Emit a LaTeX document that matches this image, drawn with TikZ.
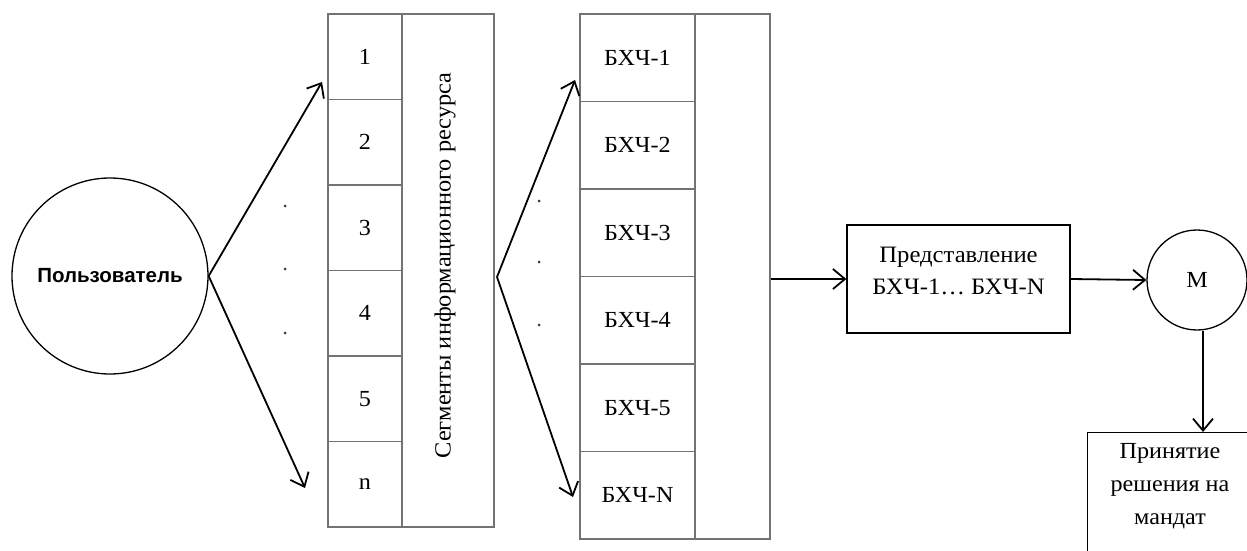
\documentclass[tikz,border=0pt]{standalone}
\usepackage{fontspec}
\setmainfont{Liberation Serif}
\newfontfamily\widefont[FakeStretch=1.05]{Liberation Serif}
\newfontfamily\userfont{Liberation Sans}
\usetikzlibrary{arrows.meta,positioning,calc}

\tikzset{
  box/.style={draw=black!55, line width=1.6pt, inner sep=0pt},
  cell/.style={box, minimum height=85.5pt, font=\widefont\fontsize{23}{26}\selectfont},
  arr/.style={-{Straight Barb[length=12pt,width=20pt]}, line width=1.8pt},
  dot/.style={circle, fill=black!80, minimum size=3pt, inner sep=0pt}
}

\begin{document}
\begin{tikzpicture}[x=1pt,y=-1pt]
\useasboundingbox (0,0) rectangle (1247,551);
\clip (0,0) rectangle (1247,551);
% user
\node[draw, line width=1.3pt, circle, minimum size=196pt, inner sep=0pt,
      font=\userfont\bfseries\fontsize{20.5}{24}\selectfont] (user) at (110,276) {Пользователь};
% segments of the resource
\foreach \i/\t in {1/1,2/2,3/3,4/4,5/5,6/n} {
  \node[cell, minimum width=74pt] (seg\i) at (365,{14+85.5*(\i-0.5)}) {\t};
}
\node[box, minimum width=92pt, minimum height=513pt] (segside) at (448,270.5) {};
\node[rotate=90, font=\widefont\fontsize{23.2}{26}\selectfont] (segtext) at (445,265.5) {Сегменты информационного ресурса};
% parts
\foreach \i/\t in {1/БХЧ-1,2/БХЧ-2,3/БХЧ-3,4/БХЧ-4,5/БХЧ-5,6/БХЧ-N} {
  \node[cell, minimum width=115pt, minimum height=87.5pt] (part\i) at (637.5,{14+87.5*(\i-0.5)}) {\t};
}
\node[box, minimum width=75pt, minimum height=525pt] (partside) at (732.5,276.5) {};
% dots
\foreach \y [count=\k] in {206,269,333} {
  \node[dot] (da\k) at (285,\y) {};
}
\foreach \y [count=\k] in {201,262,325} {
  \node[dot] (db\k) at (539,\y) {};
}
% representation, M, decision
\node[draw, line width=1.3pt, minimum width=223pt, minimum height=108pt] (rep) at (958.5,279) {};
\node[align=center, font=\widefont\fontsize{23.5}{32}\selectfont] (reptext) at (958.5,271) {Представление\\БХЧ-1\dots\ БХЧ-N};
\node[draw, line width=1.3pt, circle, minimum size=100pt, inner sep=0pt,
      font=\widefont\fontsize{23}{26}\selectfont] (mcirc) at (1197,280) {М};
\node[draw, line width=1.3pt, minimum width=166pt, minimum height=170pt, anchor=north west] (dec) at (1087,432) {};
\node[align=center, anchor=north, font=\widefont\fontsize{23}{33}\selectfont] (dectext) at (1170,440) {Принятие\\решения на\\мандат};
% connectors
\coordinate (fa1) at (322,82);
\coordinate (fa2) at (305,488);
\coordinate (apex) at (497,277);
\coordinate (fb1) at (575,80);
\coordinate (fb2) at (573,497);
\draw[arr] (user.east) -- (fa1);
\draw[arr] (user.east) -- (fa2);
\draw[arr] (apex) -- (fb1);
\draw[arr] (apex) -- (fb2);
\draw[arr] (partside.east |- rep.west) -- (rep.west);
\draw[arr] (rep.east) -- (mcirc.west);
\draw[arr] ([xshift=6pt]mcirc.south) -- ([xshift=6pt]mcirc.south |- dec.north);
\end{tikzpicture}
\end{document}
